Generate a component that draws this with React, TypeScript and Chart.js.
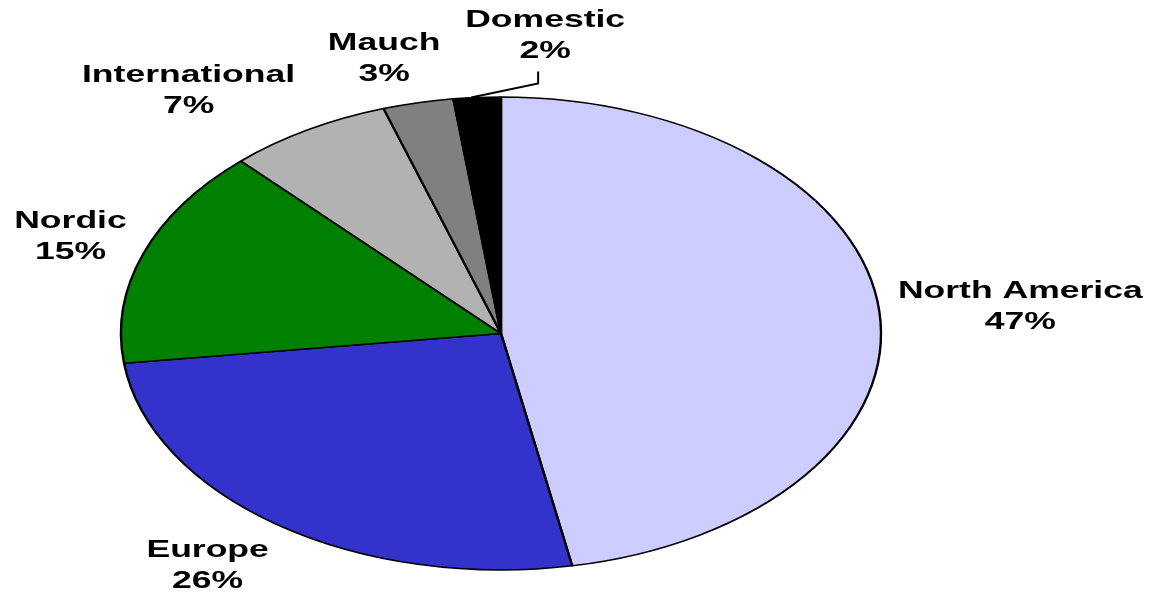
import React, { useEffect, useRef } from "react";
import { Chart, registerables } from "chart.js";

Chart.register(...registerables);

const categories = ["North America", "Europe", "Nordic", "International", "Mauch", "Domestic"];
const shares = [47, 26, 15, 7, 3, 2];
const percentLabels = ["47%", "26%", "15%", "7%", "3%", "2%"];
const sliceColors = ["#CCCCFF", "#3333CC", "#008000", "#B2B2B2", "#808080", "#000000"];

// label nudges relative to the slice's mid-point on the rim (style only)
const labelNudge: [number, number][] = [
  [141, -13],
  [-70, 32],
  [-73, -25],
  [-119, -48],
  [-34, -53],
  [68, -70],
];

const STRETCH_X = 380 / 236.5;
const TEXT_STRETCH = 1.48;

const ellipsePlugin = {
  id: "ellipse",
  beforeDatasetsDraw(chart: any) {
    const arc = chart.getDatasetMeta(0).data[0];
    const ctx = chart.ctx;
    ctx.save();
    ctx.translate(arc.x, 0);
    ctx.scale(STRETCH_X, 1);
    ctx.translate(-arc.x, 0);
  },
  afterDatasetsDraw(chart: any) {
    chart.ctx.restore();
  },
  afterDraw(chart: any) {
    const ctx = chart.ctx;
    const meta = chart.getDatasetMeta(0);
    meta.data.forEach((arc: any, i: number) => {
      const mid = (arc.startAngle + arc.endAngle) / 2;
      const px = arc.x + STRETCH_X * arc.outerRadius * Math.cos(mid);
      const py = arc.y + arc.outerRadius * Math.sin(mid);
      const [dx, dy] = labelNudge[i];
      const lx = px + dx;
      const ly = py + dy;
      ctx.save();
      ctx.fillStyle = "#000";
      ctx.font = 'bold 24px "Liberation Sans", Arial, sans-serif';
      ctx.textAlign = "center";
      ctx.textBaseline = "alphabetic";
      ctx.translate(lx, ly);
      ctx.scale(TEXT_STRETCH, 1);
      ctx.fillText(categories[i], 0, 0);
      ctx.fillText(percentLabels[i], 0, 31);
      ctx.restore();
      if (categories[i] === "Domestic") {
        ctx.save();
        ctx.strokeStyle = "#000";
        ctx.lineWidth = 2;
        ctx.beginPath();
        ctx.moveTo(px - 6, py);
        ctx.lineTo(lx - 7, ly + 56);
        ctx.lineTo(lx - 7, ly + 44);
        ctx.stroke();
        ctx.restore();
      }
    });
  },
};

export default function App() {
  const canvasRef = useRef<HTMLCanvasElement>(null);
  useEffect(() => {
    if (!canvasRef.current) return;
    const chart = new Chart(canvasRef.current, {
      type: "pie",
      data: {
        labels: categories,
        datasets: [
          {
            data: shares,
            backgroundColor: sliceColors,
            borderColor: "#000000",
            borderWidth: 1.5,
            radius: 236.5,
          },
        ],
      },
      options: {
        animation: false,
        responsive: true,
        maintainAspectRatio: false,
        events: [],
        layout: { padding: { top: 97, bottom: 23, left: 264.5, right: 415.5 } },
        plugins: { legend: { display: false }, tooltip: { enabled: false } },
      },
      plugins: [ellipsePlugin],
    });
    return () => chart.destroy();
  }, []);
  return (
    <div style={{ position: "absolute", left: 0, top: 0, width: 1153, height: 593, background: "#fff" }}>
      <canvas ref={canvasRef} />
    </div>
  );
}
